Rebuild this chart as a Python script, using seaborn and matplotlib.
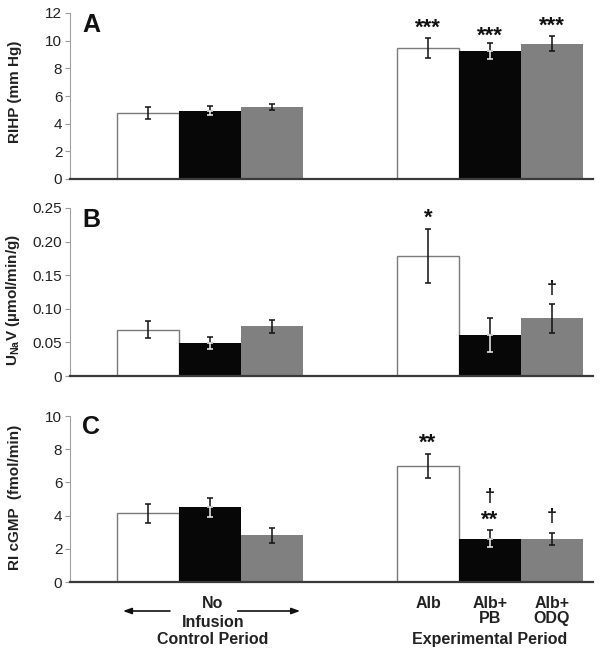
import matplotlib
matplotlib.use("Agg")
import matplotlib.pyplot as plt
import matplotlib.transforms as mtransforms
import seaborn as sns
import pandas as pd
import numpy as np

# ---------------- data ----------------
periods = ["Control", "Experimental"]
treatments = ["Alb", "Alb+PB", "Alb+ODQ"]

rihp_control = [4.77, 4.93, 5.20]
rihp_exp = [9.47, 9.23, 9.78]
rihp_sem_control = [0.43, 0.33, 0.24]
rihp_sem_exp = [0.69, 0.58, 0.55]

unav_control = [0.069, 0.049, 0.074]
unav_exp = [0.179, 0.061, 0.086]
unav_sem_control = [0.013, 0.0087, 0.010]
unav_sem_exp = [0.040, 0.025, 0.0217]

cgmp_control = [4.14, 4.50, 2.81]
cgmp_exp = [6.97, 2.61, 2.57]
cgmp_sem_control = [0.56, 0.58, 0.44]
cgmp_sem_exp = [0.73, 0.52, 0.36]

# significance marks: (period index, treatment index, label, y)
marks_A = [(1, 0, "***", 11.13), (1, 1, "***", 10.60), (1, 2, "***", 11.26)]
marks_B = [(1, 0, "*", 0.240), (1, 2, "\u2020", 0.131)]
marks_C = [(1, 0, "**", 8.54), (1, 1, "\u2020", 5.22), (1, 1, "**", 3.92), (1, 2, "\u2020", 4.02)]

ylabels = ["RIHP (mm Hg)", r"U$_{\mathbf{Na}}$V (µmol/min/g)", "RI cGMP  (fmol/min)"]
yticks_A = [0, 2, 4, 6, 8, 10, 12]
yticks_B = [0, 0.05, 0.10, 0.15, 0.20, 0.25]
yticklabels_B = ["0", "0.05", "0.10", "0.15", "0.20", "0.25"]
yticks_C = [0, 2, 4, 6, 8, 10]
panel_letters = ["A", "B", "C"]

colors = ["#ffffff", "#070707", "#808080"]

# ---------------- style ----------------
sns.set_style("white")
plt.rcParams["font.family"] = ["Liberation Sans", "DejaVu Sans"]
plt.rcParams["mathtext.fontset"] = "custom"
plt.rcParams["mathtext.rm"] = "Liberation Sans"
plt.rcParams["mathtext.bf"] = "Liberation Sans:bold"

fig = plt.figure(figsize=(6.01, 6.55), dpi=100)
W, H = 601, 655
left_px, right_px = 70, 593
panels_px = [(13, 179), (208, 376), (416, 582)]

def make_df(ctrl, exp):
    rows = []
    for p, vals in zip(periods, [ctrl, exp]):
        for t, v in zip(treatments, vals):
            rows.append({"period": p, "treatment": t, "value": v})
    return pd.DataFrame(rows)

datasets = [
    (rihp_control, rihp_exp, rihp_sem_control, rihp_sem_exp, (0, 12), yticks_A, [str(t) for t in yticks_A], marks_A),
    (unav_control, unav_exp, unav_sem_control, unav_sem_exp, (0, 0.25), yticks_B, yticklabels_B, marks_B),
    (cgmp_control, cgmp_exp, cgmp_sem_control, cgmp_sem_exp, (0, 10), yticks_C, [str(t) for t in yticks_C], marks_C),
]
label_y = [0.527, 0.455, 0.509]
letter_y = [0.884, 0.885, 0.889]

axes = []
bar_containers = []
for i, (ctrl, exp, sc, se, ylim, ticks, tlabels, marks) in enumerate(datasets):
    top, bot = panels_px[i]
    ax = fig.add_axes([left_px / W, 1 - bot / H, (right_px - left_px) / W, (bot - top) / H])
    axes.append(ax)
    df = make_df(ctrl, exp)
    sns.barplot(data=df, x="period", y="value", hue="treatment", order=periods,
                hue_order=treatments, palette=colors, errorbar=None, width=0.664,
                saturation=1, legend=False, ax=ax, linewidth=0)
    conts = list(ax.containers)
    bar_containers.append(conts)
    for hi, cont in enumerate(conts):
        for bar in cont:
            if hi == 0:
                bar.set_edgecolor("#7a7a7a")
                bar.set_linewidth(1.0)
            else:
                bar.set_edgecolor(colors[hi])
                bar.set_linewidth(0)
    sems = [sc, se]
    centers = {}
    for hi, cont in enumerate(conts):
        for pi, bar in enumerate(cont):
            x = bar.get_x() + bar.get_width() / 2
            h = bar.get_height()
            s = sems[pi][hi]
            centers[(pi, hi)] = x
            if hi == 1:
                ax.errorbar([x], [h], yerr=[[0], [s]], fmt="none", ecolor="#111111",
                            elinewidth=1.1, capsize=2.3, capthick=1.1, zorder=5)
                ax.errorbar([x], [h], yerr=[[s], [0]], fmt="none", ecolor="#f2f2f2",
                            elinewidth=1.1, capsize=2.3, capthick=1.1, zorder=5)
            else:
                ax.errorbar([x], [h], yerr=[[s], [s]], fmt="none", ecolor="#111111",
                            elinewidth=1.1, capsize=2.3, capthick=1.1, zorder=5)
    for pi, hi, lab, yv in marks:
        if lab == "\u2020":
            fs, k = 13, 0.29
        else:
            fs, k = 16, 0.40
        ax.annotate(lab, xy=(centers[(pi, hi)], yv), xytext=(0, -k * fs),
                    textcoords="offset points", ha="center", va="baseline",
                    fontsize=fs, fontweight="bold", color="#111111")
    ax.set_xlim(-0.5, 1.368)
    ax.set_ylim(*ylim)
    ax.set_yticks(ticks)
    ax.set_yticklabels(tlabels)
    ax.set_xticks([])
    ax.set_xlabel("")
    ax.set_ylabel(ylabels[i], fontsize=11, fontweight="bold", color="#222222")
    ax.yaxis.set_label_coords(-0.092, label_y[i])
    ax.tick_params(axis="y", which="major", length=3.5, width=0.8, color="#9a9a9a",
                   labelsize=11, labelcolor="#222222", pad=2, left=True)
    for sp in ["top", "right"]:
        ax.spines[sp].set_visible(False)
    ax.spines["left"].set_color("#a0a0a0")
    ax.spines["left"].set_linewidth(0.8)
    ax.spines["bottom"].set_color("#3a3a3a")
    ax.spines["bottom"].set_linewidth(1.6)
    ax.spines["bottom"].set_zorder(6)
    ax.text(0.040, letter_y[i], panel_letters[i], transform=ax.transAxes,
            fontsize=18, fontweight="bold", ha="center", va="baseline", color="#111111")

# bottom labels on panel C
axC = axes[2]
trans = mtransforms.blended_transform_factory(axC.transData, axC.transAxes)
def fy(px):
    return -(px - 582) / 166.0

txt_kw = dict(transform=trans, ha="center", va="baseline", fontsize=11.5,
              fontweight="bold", color="#222222")
axC.text(0.01, fy(608), "No", **txt_kw)
axC.text(0.01, fy(627), "Infusion", **txt_kw)
axC.text(0.01, fy(644), "Control Period", **txt_kw)
ctrs = bar_containers[2]
exp_x = [ctrs[hi][1].get_x() + ctrs[hi][1].get_width() / 2 for hi in range(3)]
axC.text(exp_x[0], fy(608), "Alb", **txt_kw)
axC.text(exp_x[1], fy(608), "Alb+", **txt_kw)
axC.text(exp_x[1], fy(623), "PB", **txt_kw)
axC.text(exp_x[2], fy(608), "Alb+", **txt_kw)
axC.text(exp_x[2], fy(623), "ODQ", **txt_kw)
axC.text(1.0, fy(644), "Experimental Period", **txt_kw)

arrow_kw = dict(arrowstyle="-|>,head_length=0.5,head_width=0.18", color="#111111", lw=1.2)
axC.annotate("", xy=(-0.321, fy(611)), xytext=(-0.133, fy(611)), xycoords=trans,
             textcoords=trans, arrowprops=arrow_kw, annotation_clip=False)
axC.annotate("", xy=(0.332, fy(611)), xytext=(0.089, fy(611)), xycoords=trans,
             textcoords=trans, arrowprops=arrow_kw, annotation_clip=False)

fig.savefig("out.png", dpi=100)
